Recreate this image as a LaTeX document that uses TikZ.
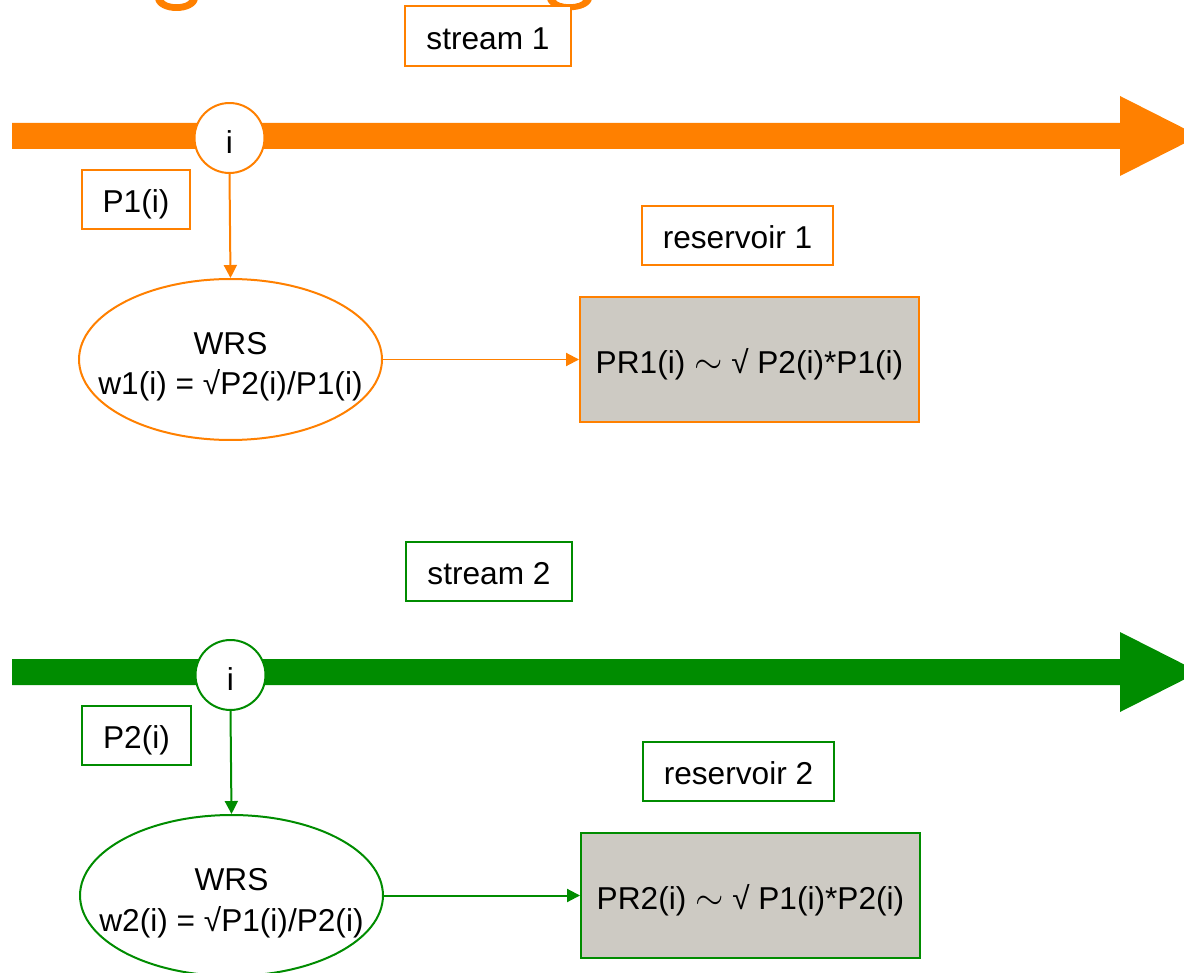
\documentclass[tikz,border=0pt]{standalone}
\usepackage{fontspec}
\setmainfont{Liberation Sans}
\usetikzlibrary{shapes.geometric,arrows.meta}
\definecolor{orng}{HTML}{FF8000}
\definecolor{grn}{HTML}{008C00}
\definecolor{resgray}{HTML}{CDCAC3}
\newcommand{\tld}{{\fontsize{22}{22}\selectfont$\sim$}}
\tikzset{
  lbl/.style={draw, line width=0.04cm, fill=white, inner sep=0pt, text height=15.1pt, text depth=0pt, font=\fontsize{18}{20}\selectfont},
  evt/.style={circle, draw, line width=0.04cm, fill=white, minimum size=1.4cm, inner sep=0pt, text height=17.4pt, text depth=0pt, font=\fontsize{18}{20}\selectfont},
  wrs/.style={ellipse, draw, line width=0.04cm, fill=white, minimum width=6.06cm, minimum height=3.22cm, inner sep=0pt},
  wrstext/.style={align=center, inner sep=0pt, yshift=-0.147cm, font=\fontsize{18}{23.2}\selectfont},
  resbox/.style={draw, line width=0.04cm, fill=resgray, minimum width=6.78cm, minimum height=2.5cm, inner sep=0pt, text height=16.3pt, text depth=0pt, font=\fontsize{18}{20}\selectfont},
  conn/.style={line width=0.04cm, -{Triangle[length=0.26cm,width=0.26cm]}},
}
\begin{document}
\begin{tikzpicture}[x=0.02cm, y=-0.02cm]
\useasboundingbox (0,0) rectangle (1184,973);
\clip (0,0) rectangle (1184,973);
% cut-off title glyph fragments
\fill[orng] (155,-1) .. controls (158,15) and (195,15) .. (198,-1) -- (190,-1) .. controls (187,6) and (166,6) .. (163,-1) -- cycle;
\fill[orng] (547,-1) .. controls (550,14) and (589,14) .. (592,-1) -- (584,-1) .. controls (581,6) and (558,6) .. (555,-1) -- cycle;

% ---------- stream 1 ----------
\fill[orng] (12,123) -- (1120,123) -- (1120,96) -- (1199,136) -- (1120,176) -- (1120,149) -- (12,149) -- cycle;
\node[lbl, draw=orng, minimum width=3.32cm, minimum height=1.2cm] (s1) at (488,36) {stream 1};
\node[evt, draw=orng] (c1) at (229.5,138) {i};
\node[lbl, draw=orng, minimum width=2.16cm, minimum height=1.18cm] (p1) at (136,199.5) {P1(i)};
\node[lbl, draw=orng, minimum width=3.82cm, minimum height=1.18cm] (r1) at (737.5,235.5) {reservoir 1};
\node[wrs, draw=orng] (e1) at (230.5,359.5) {};
\node[wrstext] (t1) at (e1.center) {WRS\\w1(i) = √P2(i)/P1(i)};
\node[resbox, draw=orng] (pr1) at (749.5,359.5) {PR1(i) \tld{} √ P2(i)*P1(i)};
\draw[conn, orng] (c1.south) -- (e1.north);
\draw[conn, orng] (e1.east) -- (pr1.west);

% ---------- stream 2 ----------
\fill[grn] (12,659) -- (1120,659) -- (1120,632) -- (1199,672) -- (1120,712) -- (1120,685) -- (12,685) -- cycle;
\node[lbl, draw=grn, minimum width=3.32cm, minimum height=1.18cm] (s2) at (489,571.5) {stream 2};
\node[evt, draw=grn] (c2) at (230.5,675) {i};
\node[lbl, draw=grn, minimum width=2.18cm, minimum height=1.18cm] (p2) at (136.5,735.5) {P2(i)};
\node[lbl, draw=grn, minimum width=3.82cm, minimum height=1.18cm] (r2) at (738.5,771.5) {reservoir 2};
\node[wrs, draw=grn] (e2) at (231.5,895.5) {};
\node[wrstext] (t2) at (e2.center) {WRS\\w2(i) = √P1(i)/P2(i)};
\node[resbox, draw=grn] (pr2) at (750.5,895.5) {PR2(i) \tld{} √ P1(i)*P2(i)};
\draw[conn, grn] (c2.south) -- (e2.north);
\draw[conn, grn] (e2.east) -- (pr2.west);
\end{tikzpicture}
\end{document}
